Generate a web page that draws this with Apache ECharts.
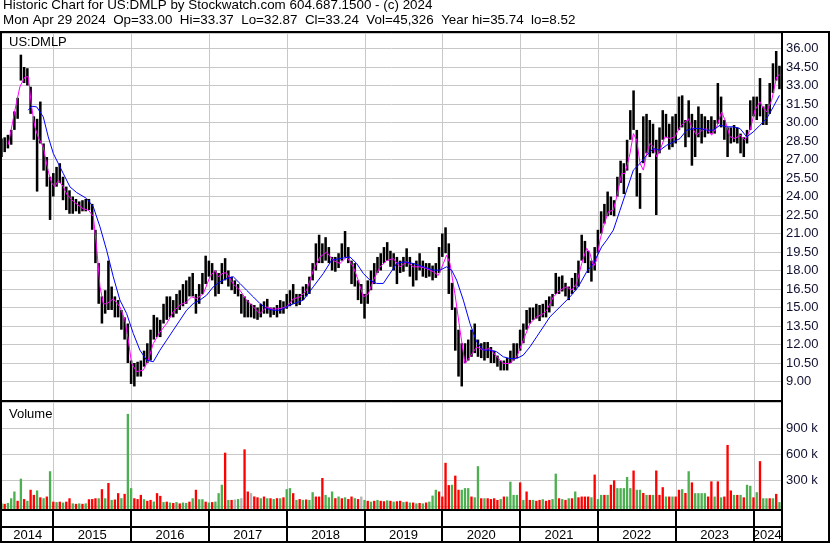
<!DOCTYPE html>
<html><head><meta charset="utf-8">
<script src="https://cdn.jsdelivr.net/npm/echarts@6/dist/echarts.min.js"></script>
<style>html,body{margin:0;padding:0;background:#fff;overflow:hidden}#c{width:830px;height:543px}</style>
</head><body><div id="c"></div>
<script>
// ---------------- data ----------------
const titleLine1 = 'Historic Chart for US:DMLP by Stockwatch.com 604.687.1500 - (c) 2024';
const titleLine2 = 'Mon Apr 29 2024  Op=33.00  Hi=33.37  Lo=32.87  Cl=33.24  Vol=45,326  Year hi=35.74  lo=8.52';
const symbolLabel = 'US:DMLP';
const volumeLabel = 'Volume';
const years = [2014, 2015, 2016, 2017, 2018, 2019, 2020, 2021, 2022, 2023, 2024];
// x unit: months since Jan 2014; data in half-month periods starting May 1 2014
const firstPeriod = 4;
const highs = [
28.7,28.8,29.0,29.4,30.9,32.0,35.5,34.5,34.4,32.9,
30.5,30.3,31.7,28.3,27.2,25.6,25.9,26.4,26.7,25.6,
24.8,24.5,24.0,23.8,23.6,23.7,23.8,23.8,23.4,21.3,
18.6,15.9,16.4,18.8,16.7,15.9,15.6,14.8,14.2,13.7,
10.7,10.5,10.6,10.7,11.5,12.1,13.2,14.4,14.2,14.0,
15.3,15.9,15.9,15.6,16.1,16.4,16.9,17.2,17.5,17.8,
16.1,16.9,17.8,19.2,18.8,18.6,18.0,17.8,18.6,19.0,
18.0,17.5,17.2,16.9,16.1,15.9,15.6,15.3,15.2,15.0,
15.3,15.5,15.7,15.0,15.0,15.2,15.6,15.5,16.1,16.4,
16.9,16.1,16.1,16.7,16.9,17.5,18.6,20.2,20.9,20.2,
20.7,19.9,19.1,19.1,19.4,20.2,21.2,19.9,18.8,18.6,
17.2,16.9,16.1,17.2,18.0,18.6,19.1,19.4,19.9,20.3,
19.6,19.4,19.1,18.8,19.1,19.8,19.1,18.6,18.8,19.4,
18.8,18.6,18.6,18.4,18.6,19.9,21.0,21.5,20.2,17.0,
15.0,13.2,12.1,12.1,12.4,13.2,13.7,12.4,12.1,12.2,
12.2,11.8,11.5,11.1,10.7,10.7,10.9,11.5,12.1,12.1,
13.2,13.7,14.8,15.0,15.0,15.3,15.2,15.3,15.6,15.9,
16.1,17.8,17.5,17.6,17.0,16.7,17.4,17.8,18.8,20.9,
20.4,19.6,18.8,19.9,21.3,22.8,23.4,24.4,24.0,23.7,
25.6,26.9,26.7,28.6,31.0,32.6,29.4,25.9,30.5,30.7,
30.2,29.9,28.6,29.6,31.0,30.7,29.9,30.5,30.7,32.1,
32.2,30.2,31.8,30.7,30.2,31.3,30.7,30.5,30.2,30.5,
30.2,33.2,32.1,30.2,29.6,29.6,29.8,29.6,29.1,28.8,
29.4,31.8,32.1,32.1,33.6,31.3,31.5,33.2,34.8,35.8,
34.6];
const lows = [
27.2,27.6,27.9,28.2,29.4,30.3,33.4,33.2,33.0,30.7,
28.6,24.4,28.3,26.1,24.8,22.1,24.0,24.8,25.1,23.7,
22.9,22.6,22.6,22.8,22.6,22.8,22.8,22.9,21.3,18.6,
15.3,13.7,14.5,14.8,14.8,14.2,14.2,13.2,12.4,10.5,
8.8,8.6,9.4,9.4,10.2,10.5,10.7,12.4,12.6,12.6,
13.7,14.0,14.2,14.2,14.5,14.8,15.1,15.3,15.9,15.9,
14.5,15.3,16.1,16.9,17.5,17.2,15.9,16.1,16.9,17.2,
16.7,16.4,16.1,15.9,14.5,14.2,14.2,14.2,14.1,14.0,
14.2,14.5,14.5,14.2,14.4,14.2,14.5,14.5,14.9,15.1,
15.3,15.1,15.2,15.6,15.9,16.1,17.2,18.0,18.6,18.6,
18.8,18.6,18.0,17.9,18.2,18.8,19.1,18.6,16.9,16.7,
15.6,15.3,14.1,15.3,16.4,16.9,17.8,18.0,18.6,18.8,
18.3,18.0,16.9,17.8,17.9,18.3,17.5,16.7,17.2,18.0,
17.5,17.4,17.5,17.2,17.4,17.8,19.1,19.4,16.1,14.8,
11.5,9.4,8.6,10.5,10.7,11.0,11.3,11.0,10.9,10.7,
10.9,10.5,10.5,10.2,9.9,9.9,9.9,10.5,10.7,10.9,
11.5,12.1,13.2,13.7,14.0,14.1,13.9,14.2,14.2,14.6,
15.1,16.1,16.1,16.3,15.9,15.6,16.1,16.4,16.7,18.8,
18.6,17.8,17.1,18.0,19.4,21.0,21.8,22.4,22.5,22.4,
24.0,25.1,24.2,26.1,28.6,29.4,24.0,23.0,26.7,27.5,
27.2,27.5,22.5,27.5,28.6,28.8,27.8,28.0,28.3,29.4,
29.6,28.0,28.8,26.5,27.2,28.8,28.3,28.8,29.1,29.1,
29.1,29.9,29.6,28.6,27.2,28.3,28.4,28.3,27.5,27.2,
28.3,29.4,30.5,30.2,30.5,29.8,29.8,30.7,32.4,33.4,
32.7];
// volume in thousands of shares (largest day per period)
const volumes = [
30,25,35,89,167,60,315,80,60,187,
128,179,100,90,109,401,50,45,50,40,
50,89,30,25,30,25,30,78,80,89,
89,194,89,265,70,75,148,90,140,1062,
206,89,80,128,78,60,70,51,148,117,
45,50,40,35,45,30,40,35,50,89,
187,78,78,50,40,45,51,148,245,615,
70,70,75,80,90,653,167,148,110,100,
89,109,89,89,80,90,89,100,194,206,
148,70,80,70,75,70,159,109,109,323,
128,100,167,90,109,89,100,80,109,90,
80,109,70,60,50,60,70,60,55,65,
60,50,55,60,45,50,40,40,30,35,
30,40,50,120,187,167,109,498,241,245,
350,187,187,206,206,109,100,459,89,89,
89,80,89,70,80,109,109,280,128,128,
272,70,167,70,70,60,70,78,60,70,
80,373,89,80,70,89,89,167,100,109,
109,109,100,362,80,128,128,128,245,296,
206,206,206,334,206,409,187,187,150,128,
128,128,409,128,217,109,109,109,109,187,
194,150,401,272,148,148,148,148,109,284,
109,284,100,109,704,179,128,128,128,100,
245,233,100,159,517,89,89,89,89,140,
45];
// g = up day (green), r = down day (red), s = unchanged (grey)
const volDirections = (
'grgggrgrgr'+'rgrgrgrgrg'+'rrgrgrgrrr'+'grgrgrrgrg'+'grrrgrrgrr'+
'grgrgrggrg'+'rggrgrgggr'+'grsgsrrsrr'+'grgrgrgrgg'+'rgrgrggrrr'+
'gggrgrgrrg'+'rsgrgrgrrg'+'rgrrgrgrgr'+'grgggrrrrg'+'rrgggrggrg'+
'rrrrgrgggg'+'rgrrgrrgrr'+'ggrgrgrgrr'+'rrgrggrgrr'+'gggggrggrg'+
'rgrrrgrgrr'+'grgrggggrr'+'grgrrrgrgr'+'ggrgrggrgr'+'g').split('');
// moving averages: [month, price]
const maShort = [[5.06,28.2],[6.08,31.0],[6.85,32.9],[7.63,33.7],[8.14,33.7],[8.65,31.3],[9.17,29.6],[9.68,28.8],[10.45,28.0],[11.2,26.1],[11.74,25.1],[12.25,24.8],[12.77,25.3],[13.54,24.8],[14.05,24.2],[15.08,23.6],[16.62,23.0],[17.4,22.9],[18.17,22.4],[18.68,19.9],[19.2,16.7],[19.71,15.3],[20.22,15.3],[21.25,15.7],[22.28,15.05],[23.05,14.0],[23.57,12.35],[24.08,10.46],[24.85,9.8],[25.88,9.92],[26.65,10.73],[27.42,12.08],[28.45,13.0],[29.48,13.7],[30.5,14.65],[31.53,15.2],[32.56,15.46],[33.33,15.86],[34.1,15.73],[35.13,16.1],[36.16,17.5],[36.93,18.0],[37.45,17.5],[38.22,17.8],[38.73,17.8],[39.76,16.9],[40.79,16.4],[41.82,15.6],[42.85,15.05],[43.87,14.5],[44.9,15.05],[45.93,14.85],[46.96,14.92],[47.99,15.05],[49.02,15.7],[50.05,15.86],[51.08,16.4],[52.1,18.0],[53.13,19.1],[54.16,19.5],[55.19,18.8],[56.22,18.57],[57.25,19.1],[58.27,18.3],[59.04,17.2],[59.82,15.86],[60.59,16.1],[61.36,17.2],[62.39,18.3],[63.41,18.8],[64.44,18.97],[65.47,18.3],[66.5,18.7],[67.53,18.3],[68.56,18.3],[69.58,18.16],[70.61,17.9],[71.38,17.6],[72.16,18.57],[72.67,19.24],[73.18,18.57],[73.95,16.1],[74.73,13.16],[75.5,10.46],[76.27,11.0],[77.3,11.8],[78.33,11.54],[79.35,11.68],[80.38,11.0],[81.41,10.46],[82.44,10.46],[83.47,11.0],[84.49,12.35],[85.52,13.7],[86.55,14.24],[87.58,14.5],[88.1,14.78],[89.13,15.86],[90.15,16.4],[91.18,16.68],[91.95,16.4],[92.73,16.95],[93.5,18.57],[94.27,19.8],[94.78,19.38],[95.3,18.3],[95.81,18.84],[96.32,20.46],[96.84,21.54],[97.61,22.76],[98.38,22.9],[98.9,23.97],[99.67,25.86],[100.18,25.86],[100.95,27.49],[101.47,29.1],[101.98,28.57],[102.5,26.68],[103.01,26.14],[103.52,27.49],[104.04,28.3],[104.55,28.03],[105.06,27.22],[105.58,27.76],[106.35,28.84],[107.12,28.7],[107.89,28.84],[108.66,29.65],[109.43,30.05],[109.95,30.3],[110.46,29.65],[111.23,28.97],[112.0,29.38],[112.78,29.5],[113.55,28.97],[114.32,29.65],[115.09,30.86],[115.6,30.2],[116.38,28.84],[117.15,28.7],[117.92,28.97],[118.69,28.57],[119.46,29.38],[120.23,31.0],[121.0,31.68],[121.52,31.14],[122.03,30.86],[122.8,31.8],[123.57,33.7],[124.0,33.9]];
const maLong = [[8.14,31.0],[8.65,31.32],[9.43,31.27],[10.45,30.46],[11.22,28.84],[12.0,27.49],[12.77,26.68],[13.54,25.86],[14.57,24.78],[15.6,24.32],[17.14,23.84],[18.17,23.16],[19.2,21.54],[20.22,19.65],[21.25,17.49],[22.28,15.6],[23.31,14.51],[24.34,12.89],[25.36,11.54],[26.39,10.73],[27.42,10.6],[28.45,11.54],[29.48,12.35],[30.5,13.16],[31.53,13.97],[32.56,14.78],[33.59,15.32],[34.62,15.6],[35.65,16.0],[36.68,16.68],[37.7,17.08],[38.73,17.35],[39.76,17.49],[40.79,16.95],[41.82,16.4],[42.85,15.86],[43.87,15.32],[44.9,14.92],[45.93,14.78],[46.96,14.78],[48.5,15.19],[50.56,15.6],[52.1,16.68],[53.65,17.76],[54.93,18.84],[56.22,18.97],[57.76,19.1],[58.79,18.57],[59.82,17.76],[60.84,17.22],[61.87,16.95],[62.9,16.95],[63.93,17.76],[64.96,18.57],[65.99,18.7],[67.53,18.57],[69.07,18.3],[70.61,18.03],[71.64,18.03],[72.67,18.3],[73.44,18.03],[74.21,17.22],[75.24,15.6],[76.27,13.7],[77.3,12.22],[78.33,11.54],[79.35,11.54],[80.38,11.41],[81.41,11.0],[82.44,10.86],[83.47,10.86],[84.49,11.14],[85.52,11.81],[86.55,12.62],[87.58,13.43],[88.6,14.24],[90.15,15.05],[91.7,15.86],[92.98,16.68],[94.27,17.9],[95.3,18.57],[96.58,19.92],[97.35,20.46],[98.38,21.27],[99.41,22.89],[100.44,24.51],[101.47,26.14],[102.5,26.68],[103.52,27.35],[104.55,27.89],[105.58,27.76],[106.61,28.16],[107.64,28.43],[108.66,28.7],[109.69,29.38],[110.72,29.51],[111.75,29.51],[112.78,29.38],[113.8,29.38],[114.83,29.78],[115.86,29.65],[116.89,29.65],[117.92,29.51],[118.95,28.84],[119.98,29.24],[121.0,29.78],[122.03,30.32],[123.06,31.27],[124.0,32.2]];
// axis settings
const priceMin = 7.5, priceMax = 37.257, priceStep = 1.5, priceTopLabel = 36;
const volMax = 1199, volStep = 300, volTopLabel = 900;
const monthMin = 4.087, monthMax = 124.24;

// ---------------- build ----------------
const FONT = '"Liberation Sans", Arial, sans-serif';
const periods = highs.map((_, i) => firstPeriod + i / 2);
const priceRows = periods.map((m, i) => [m, highs[i], lows[i]]);
const volColorMap = { g: '#4caf50', r: '#ff0000', s: '#b4b4b4' };
const volRows = periods.map((m, i) => [m, volumes[i], i]);
const yearStarts = years.slice(1).map(y => (y - 2014) * 12);
const yearRows = years.map(y => [(y - 2014) * 12, (y - 2013) * 12, y]);

function renderBar(params, api) {
  const m = api.value(0);
  const top = api.coord([m, api.value(1)]);
  const bot = api.coord([m, api.value(2)]);
  const w = api.size([0.5, 0])[0] * 0.78;
  return { type: 'rect', shape: { x: top[0] - w / 2, y: top[1], width: w, height: Math.max(1, bot[1] - top[1]) },
           style: { fill: '#000' } };
}
function renderVol(params, api) {
  const m = api.value(0);
  const top = api.coord([m, api.value(1)]);
  const base = api.coord([m, 0]);
  const w = api.size([0.5, 0])[0] * 0.72;
  const c = volColorMap[volDirections[api.value(2)]];
  return { type: 'rect', shape: { x: top[0] - w / 2, y: top[1], width: w, height: base[1] - top[1] + 3 },
           style: { fill: c } };
}
function renderYearLine(params, api) {
  const cs = params.coordSys;
  const x = Math.round(api.coord([api.value(0), 0])[0]) + 0.5;
  return { type: 'line', shape: { x1: x, y1: cs.y, x2: x, y2: cs.y + cs.height },
           style: { stroke: '#c8c8c8', lineWidth: 1 } };
}
function renderYearBox(params, api) {
  const cs = params.coordSys;
  let x0 = api.coord([api.value(0), 0])[0];
  let x1 = api.coord([api.value(1), 0])[0];
  x0 = Math.max(x0, cs.x); x1 = Math.min(x1, cs.x + cs.width);
  const children = [];
  if (x1 < cs.x + cs.width - 1) {
    children.push({ type: 'rect', shape: { x: Math.round(x1) - 1, y: cs.y - 2, width: 2, height: cs.height + 2 }, style: { fill: '#000' } });
  }
  children.push({ type: 'text', style: { text: String(api.value(2)), x: (x0 + x1) / 2, y: api.coord([0, 0.4])[1],
    align: 'center', verticalAlign: 'middle', font: '13px ' + FONT, fill: '#000' } });
  return { type: 'group', children };
}

const hiddenX = (gi) => ({ type: 'value', gridIndex: gi, min: monthMin, max: monthMax,
  axisLine: { show: false }, axisTick: { show: false }, axisLabel: { show: false }, splitLine: { show: false } });

const blk = (x, y, w, h) => ({ type: 'rect', shape: { x, y, width: w, height: h }, style: { fill: '#000' }, z: 100, silent: true });
const txt = (t, x, y, fs) => ({ type: 'text', x, y, style: { text: t, font: (fs || 13) + 'px ' + FONT, fill: '#000', verticalAlign: 'middle' }, z: 100, silent: true });

const option = {
  animation: false,
  backgroundColor: '#fff',
  grid: [
    { left: 2, right: 49, top: 33, height: 367 },
    { left: 2, right: 49, top: 402, height: 104 },
    { left: 2, right: 49, top: 511, height: 30 }
  ],
  xAxis: [hiddenX(0), hiddenX(1), hiddenX(2)],
  yAxis: [
    { type: 'value', gridIndex: 0, position: 'right', min: priceMin, max: priceMax, interval: priceStep,
      axisLine: { show: false }, axisTick: { show: false },
      axisLabel: { margin: 5, fontSize: 13, fontFamily: FONT, color: '#101030', showMaxLabel: false,
        formatter: v => (v < 8.9 || v > priceTopLabel + 0.1) ? '' : v.toFixed(2) },
      splitLine: { lineStyle: { color: '#c8c8c8', width: 1 } } },
    { type: 'value', gridIndex: 1, position: 'right', min: 0, max: volMax, interval: volStep,
      axisLine: { show: false }, axisTick: { show: false },
      axisLabel: { margin: 5, fontSize: 13, fontFamily: FONT, color: '#101030', showMaxLabel: false,
        formatter: v => (v === 0 || v > volTopLabel) ? '' : v + ' k' },
      splitLine: { lineStyle: { color: '#c8c8c8', width: 1 } } },
    { type: 'value', gridIndex: 2, min: 0, max: 2, show: false }
  ],
  series: [
    { type: 'custom', name: 'yearGridPrice', xAxisIndex: 0, yAxisIndex: 0, data: yearStarts.map(m => [m]),
      renderItem: renderYearLine, z: 1, silent: true },
    { type: 'custom', name: 'yearGridVol', xAxisIndex: 1, yAxisIndex: 1, data: yearStarts.map(m => [m]),
      renderItem: renderYearLine, z: 1, silent: true },
    { type: 'custom', name: 'price', xAxisIndex: 0, yAxisIndex: 0, data: priceRows, renderItem: renderBar,
      encode: { x: 0, y: [1, 2] }, clip: true, z: 2, silent: true },
    { type: 'line', name: 'MA short', xAxisIndex: 0, yAxisIndex: 0, data: maShort, showSymbol: false,
      lineStyle: { color: '#ff00ff', width: 1 }, z: 3, silent: true },
    { type: 'line', name: 'MA long', xAxisIndex: 0, yAxisIndex: 0, data: maLong, showSymbol: false,
      lineStyle: { color: '#0000ff', width: 1 }, z: 4, silent: true },
    { type: 'custom', name: 'volume', xAxisIndex: 1, yAxisIndex: 1, data: volRows, renderItem: renderVol,
      encode: { x: 0, y: 1 }, z: 2, silent: true },
    { type: 'custom', name: 'years', xAxisIndex: 2, yAxisIndex: 2, data: yearRows, renderItem: renderYearBox,
      encode: { x: [0, 1] }, z: 5, silent: true }
  ],
  graphic: [
    txt(titleLine1, 3, 5.8, 13.4),
    txt(titleLine2, 3, 20, 13.4),
    txt(symbolLabel, 9, 42),
    txt(volumeLabel, 9, 414),
    blk(0, 31, 830, 2),
    blk(0, 31, 2, 512),
    blk(781, 31, 2, 512),
    blk(828, 31, 2, 512),
    blk(0, 400, 783, 2),
    blk(0, 509, 783, 2),
    blk(0, 526, 783, 2),
    blk(0, 541, 830, 2)
  ]
};
const chart = echarts.init(document.getElementById('c'), null, { renderer: 'canvas' });
chart.setOption(option);
</script>
</body></html>
